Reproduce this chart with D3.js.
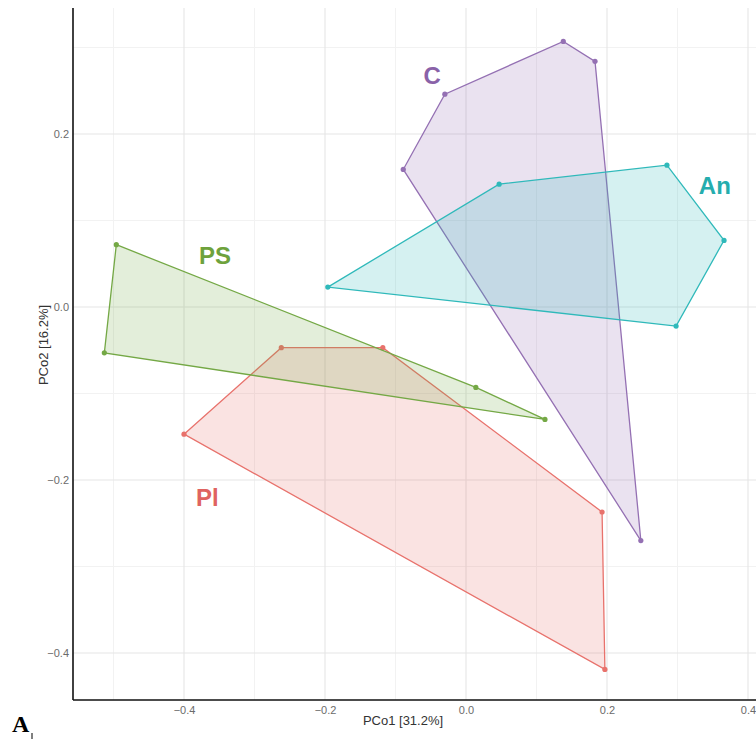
<!DOCTYPE html>
<html>
<head>
<meta charset="utf-8">
<script src="https://cdn.jsdelivr.net/npm/d3@7"></script>
<style>
  body { margin: 0; background: #fff; }
  svg { display: block; }
</style>
</head>
<body>
<svg id="chart" width="756" height="740"></svg>
<script>

// group names and label placement (data units)
let groups = ["C", "An", "PS", "Pl"];
let groupColors = ["#9470b3", "#2fb9ba", "#74a845", "#e8726c"];
let labelColors = ["#8a62a8", "#25adae", "#6ea23c", "#df6360"];
let labelPos = [[-0.048, 0.268], [0.353, 0.140], [-0.356, 0.060], [-0.367, -0.220]];

// hull vertices, [PCo1, PCo2]
let hullC  = [[-0.089, 0.159], [-0.030, 0.246], [0.138, 0.307], [0.183, 0.284], [0.248, -0.270]];
let hullAn = [[-0.196, 0.023], [0.047, 0.142], [0.285, 0.164], [0.366, 0.077], [0.298, -0.022]];
let hullPS = [[-0.496, 0.072], [0.014, -0.093], [0.112, -0.130], [-0.513, -0.053]];
let hullPl = [[-0.400, -0.147], [-0.262, -0.047], [-0.118, -0.047], [0.193, -0.237], [0.197, -0.419]];
let hulls = [hullC, hullAn, hullPS, hullPl];

let xTicks = [-0.4, -0.2, 0.0, 0.2, 0.4];
let yTicks = [-0.4, -0.2, 0.0, 0.2];
let xMinor = [-0.5, -0.3, -0.1, 0.1, 0.3];
let yMinor = [-0.3, -0.1, 0.1, 0.3];

let svg = d3.select("#chart");
let position = { left: 73, top: 8, right: 756, bottom: 700 };

let x = d3.scaleLinear()
            .domain([0, 0.2])
            .range([466, 607]);
let y = d3.scaleLinear()
            .domain([0, 0.2])
            .range([307, 134]);

// grid
let grid = svg.append("g");
grid.selectAll(".minx").data(xMinor).enter().append("line")
    .attr("x1", d => x(d)).attr("x2", d => x(d))
    .attr("y1", position.top).attr("y2", position.bottom)
    .style("stroke", "#f2f2f2").style("stroke-width", 1);
grid.selectAll(".miny").data(yMinor).enter().append("line")
    .attr("x1", position.left).attr("x2", position.right)
    .attr("y1", d => y(d)).attr("y2", d => y(d))
    .style("stroke", "#f2f2f2").style("stroke-width", 1);
grid.selectAll(".majx").data(xTicks).enter().append("line")
    .attr("x1", d => x(d)).attr("x2", d => x(d))
    .attr("y1", position.top).attr("y2", position.bottom)
    .style("stroke", "#e6e6e6").style("stroke-width", 1.1);
grid.selectAll(".majy").data(yTicks).enter().append("line")
    .attr("x1", position.left).attr("x2", position.right)
    .attr("y1", d => y(d)).attr("y2", d => y(d))
    .style("stroke", "#e6e6e6").style("stroke-width", 1.1);

// hull polygons
let line = d3.line().x(d => x(d[0])).y(d => y(d[1])).curve(d3.curveLinearClosed);
let order = [3, 2, 0, 1];
order.forEach(function(i) {
    let g = svg.append("g");
    g.append("path")
        .attr("d", line(hulls[i]))
        .style("fill", groupColors[i])
        .style("fill-opacity", 0.2)
        .style("stroke", groupColors[i])
        .style("stroke-width", 1.3);
    g.selectAll("circle").data(hulls[i]).enter().append("circle")
        .attr("cx", d => x(d[0]))
        .attr("cy", d => y(d[1]))
        .attr("r", 2.6)
        .style("fill", groupColors[i]);
});

// group labels
svg.append("g").selectAll("text").data(groups).enter().append("text")
    .attr("x", (d, i) => x(labelPos[i][0]))
    .attr("y", (d, i) => y(labelPos[i][1]))
    .attr("text-anchor", "middle")
    .attr("dominant-baseline", "central")
    .style("font-family", "Liberation Sans, Arial, sans-serif")
    .style("font-weight", "bold")
    .style("font-size", "24px")
    .style("fill", (d, i) => labelColors[i])
    .text(d => d);

// axes
let xAxis = svg.append("g")
    .attr("transform", "translate(0," + position.bottom + ")")
    .call(d3.axisBottom(x).tickValues(xTicks).tickSize(0).tickPadding(6).tickFormat(d3.format(".1f")));
let yAxis = svg.append("g")
    .attr("transform", "translate(" + position.left + ",0)")
    .call(d3.axisLeft(y).tickValues(yTicks).tickSize(0).tickPadding(4).tickFormat(d3.format(".1f")));

[xAxis, yAxis].forEach(function(a) {
    a.select(".domain").remove();
    a.selectAll("text")
        .style("font-family", "Liberation Sans, Arial, sans-serif")
        .style("font-size", "11px")
        .style("fill", "#6b6b6b");
});

svg.append("line")
    .attr("x1", position.left).attr("x2", position.right)
    .attr("y1", position.bottom).attr("y2", position.bottom)
    .style("stroke", "#111").style("stroke-width", 1.6);
svg.append("line")
    .attr("x1", position.left).attr("x2", position.left)
    .attr("y1", position.top).attr("y2", position.bottom)
    .style("stroke", "#111").style("stroke-width", 1.6);

// axis titles
svg.append("text")
    .attr("x", 403).attr("y", 725)
    .attr("text-anchor", "middle")
    .style("font-family", "Liberation Sans, Arial, sans-serif")
    .style("font-size", "13px")
    .style("fill", "#333")
    .text("PCo1 [31.2%]");
svg.append("text")
    .attr("transform", "translate(48,345) rotate(-90)")
    .attr("text-anchor", "middle")
    .style("font-family", "Liberation Sans, Arial, sans-serif")
    .style("font-size", "13px")
    .style("fill", "#333")
    .text("PCo2 [16.2%]");

// panel tag
svg.append("text")
    .attr("x", 12).attr("y", 732)
    .style("font-family", "Liberation Serif, Times New Roman, serif")
    .style("font-weight", "bold")
    .style("font-size", "24px")
    .style("fill", "#000")
    .text("A");
svg.append("line")
    .attr("x1", 32).attr("x2", 32)
    .attr("y1", 733).attr("y2", 739)
    .style("stroke", "#000").style("stroke-width", 1);

</script>
</body>
</html>
